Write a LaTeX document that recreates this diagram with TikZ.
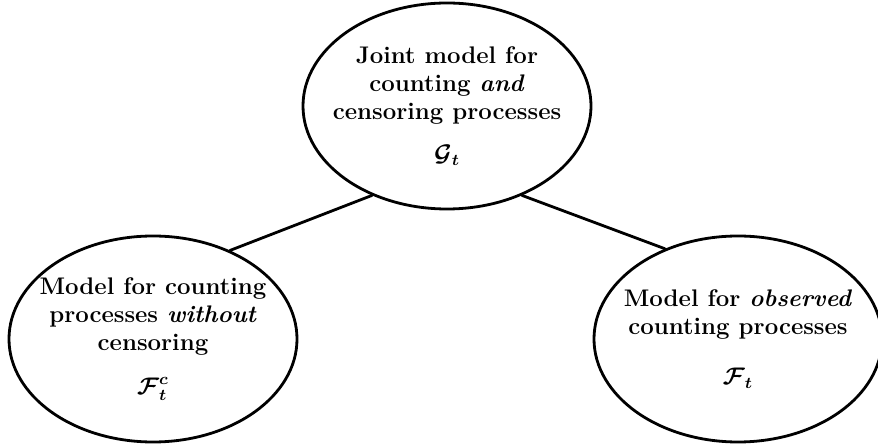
\documentclass[tikz,border=0pt]{standalone}
\usepackage{bm}
\usetikzlibrary{shapes.geometric}
\tikzset{model/.style={draw, ellipse, line width=1.4pt, minimum width=144pt, minimum height=103pt, inner xsep=-30pt, inner ysep=-30pt, align=center, font=\fontsize{12}{14}\selectfont\bfseries}}
\begin{document}
\begin{tikzpicture}[x=0.5pt, y=-0.5pt, line join=round, line cap=round]
	\clip (0,0) rectangle (878,448);
	\node[model] (joint) at (447,106) {Joint model for\\counting \textit{and}\\censoring processes\\[7pt]$\bm{\mathcal{G}_t}$};
	\node[model] (uncens) at (153,339) {Model for counting\\processes \textit{without}\\censoring\\[8pt]$\bm{\mathcal{F}^c_t}$};
	\node[model] (obs) at (738,339) {Model for \textit{observed}\\counting processes\\[11pt]$\bm{\mathcal{F}_t}$};
	\draw[line width=1.4pt] (uncens.49) -- (joint.230);
	\draw[line width=1.4pt] (joint.310) -- (obs.129);
\end{tikzpicture}
\end{document}
